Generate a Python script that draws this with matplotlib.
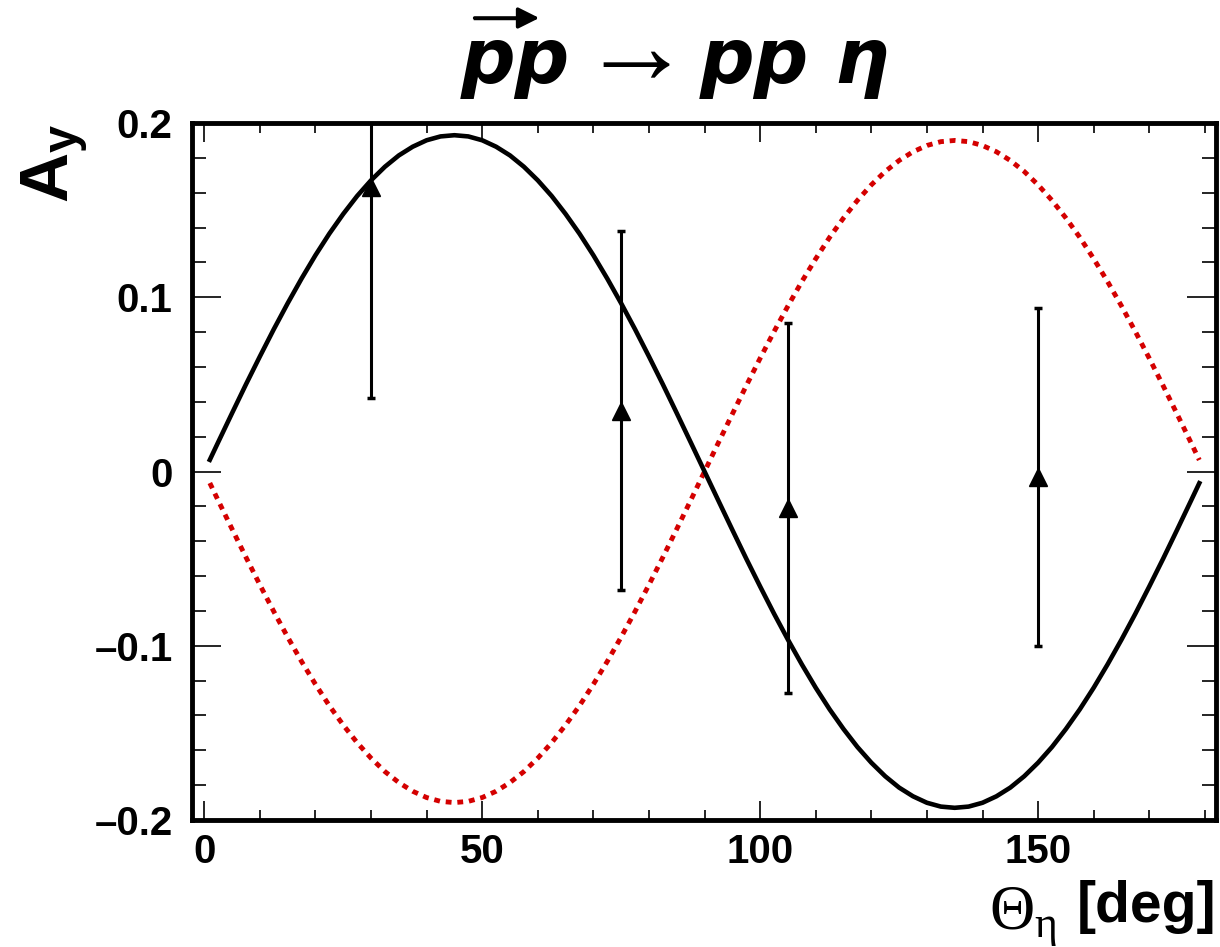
import numpy as np
import matplotlib
matplotlib.use('Agg')
import matplotlib.pyplot as plt
from matplotlib import ticker

# model curves (theta in deg)
theta = [1, 2.5, 5, 7.5, 10, 12.5, 15, 17.5, 20, 22.5, 25, 27.5, 30, 32.5, 35, 37.5, 40, 42.5,
         45, 47.5, 50, 52.5, 55, 57.5, 60, 62.5, 65, 67.5, 70, 72.5, 75, 77.5, 80, 82.5, 85, 87.5,
         90, 92.5, 95, 97.5, 100, 102.5, 105, 107.5, 110, 112.5, 115, 117.5, 120, 122.5, 125, 127.5,
         130, 132.5, 135, 137.5, 140, 142.5, 145, 147.5, 150, 152.5, 155, 157.5, 160, 162.5, 165,
         167.5, 170, 172.5, 175, 177.5, 179]
ay_solid = [0.0067, 0.0168, 0.0335, 0.0500, 0.0660, 0.0816, 0.0965, 0.1107, 0.1241, 0.1365,
            0.1478, 0.1581, 0.1671, 0.1749, 0.1814, 0.1864, 0.1901, 0.1923,
            0.1930, 0.1923, 0.1901, 0.1864, 0.1814, 0.1749, 0.1671, 0.1581, 0.1478, 0.1365,
            0.1241, 0.1107, 0.0965, 0.0816, 0.0660, 0.0500, 0.0335, 0.0168,
            0.0, -0.0168, -0.0335, -0.0500, -0.0660, -0.0816, -0.0965, -0.1107, -0.1241, -0.1365,
            -0.1478, -0.1581, -0.1671, -0.1749, -0.1814, -0.1864, -0.1901, -0.1923,
            -0.1930, -0.1923, -0.1901, -0.1864, -0.1814, -0.1749, -0.1671, -0.1581, -0.1478,
            -0.1365, -0.1241, -0.1107, -0.0965, -0.0816, -0.0660, -0.0500, -0.0335, -0.0168, -0.0067]
ay_dotted = [-0.0066, -0.0166, -0.0330, -0.0492, -0.0650, -0.0803, -0.0950, -0.1090, -0.1221, -0.1344,
             -0.1455, -0.1556, -0.1645, -0.1722, -0.1785, -0.1835, -0.1871, -0.1893,
             -0.1900, -0.1893, -0.1871, -0.1835, -0.1785, -0.1722, -0.1645, -0.1556, -0.1455, -0.1344,
             -0.1221, -0.1090, -0.0950, -0.0803, -0.0650, -0.0492, -0.0330, -0.0166,
             0.0, 0.0166, 0.0330, 0.0492, 0.0650, 0.0803, 0.0950, 0.1090, 0.1221, 0.1344,
             0.1455, 0.1556, 0.1645, 0.1722, 0.1785, 0.1835, 0.1871, 0.1893,
             0.1900, 0.1893, 0.1871, 0.1835, 0.1785, 0.1722, 0.1645, 0.1556, 0.1455,
             0.1344, 0.1221, 0.1090, 0.0950, 0.0803, 0.0650, 0.0492, 0.0330, 0.0166, 0.0066]

# measured points
pt_theta = [30, 75, 105, 150]
pt_ay = [0.163, 0.035, -0.021, -0.003]
pt_err = [0.121, 0.103, 0.106, 0.097]

plt.rcParams['font.family'] = ['Liberation Sans', 'DejaVu Sans']
plt.rcParams['font.weight'] = 'bold'
plt.rcParams['mathtext.fontset'] = 'custom'
plt.rcParams['mathtext.rm'] = 'Liberation Serif:normal'
plt.rcParams['mathtext.it'] = 'Liberation Serif:italic:normal'
plt.rcParams['mathtext.bf'] = 'Liberation Sans:bold'

fig = plt.figure(figsize=(12.2, 9.47), dpi=100)
ax = fig.add_axes([0.1574, 0.1341, 0.8393, 0.7360])

ax.plot(theta, ay_dotted, color='#d40000', lw=3.5, linestyle=(0, (1.2, 1.2)))
ax.plot(theta, ay_solid, color='black', lw=3.3)
ax.errorbar(pt_theta, pt_ay, yerr=pt_err, fmt='^', color='black', ms=13,
            elinewidth=2.2, capsize=3, capthick=2.5)

ax.set_xlim(-2.2, 182)
ax.set_ylim(-0.2, 0.2)

ax.xaxis.set_major_locator(ticker.MultipleLocator(50))
ax.xaxis.set_minor_locator(ticker.MultipleLocator(10))
ax.yaxis.set_major_locator(ticker.MultipleLocator(0.1))
ax.yaxis.set_minor_locator(ticker.MultipleLocator(0.02))
ax.yaxis.set_major_formatter(ticker.FuncFormatter(
    lambda v, p: '0' if abs(v) < 1e-9 else f'{v:.1f}'.replace('-', '\u2013')))

ax.tick_params(axis='both', which='both', direction='in', top=True, right=True, width=1.2)
ax.tick_params(axis='x', which='major', length=14, labelsize=29, pad=9)
ax.tick_params(axis='x', which='minor', length=7)
ax.tick_params(axis='y', which='major', length=21, labelsize=29, pad=14)
ax.tick_params(axis='y', which='minor', length=10)
for s in ax.spines.values():
    s.set_linewidth(3.5)

ax.set_xlabel('[deg]', fontsize=41, loc='right', fontweight='bold')
ax.xaxis.set_label_coords(1.0, -0.086)
fig.text(1057 / 1220, 1 - 928 / 947, r'$\Theta_{\mathrm{\eta}}$', fontsize=45,
         ha='right', va='baseline')
ax.set_ylabel(r'$\mathbf{A}_{\mathbf{y}}$', fontsize=50, loc='top', fontweight='bold')
ax.yaxis.set_label_coords(-0.100, 1.0)

# title: "pp -> pp eta" with polarisation arrow over the first p
fig.text(570 / 1220, 0.912, 'pp', fontsize=55, family='DejaVu Sans',
         weight='bold', style='italic', ha='right', va='baseline')
fig.text(617 / 1220, 1 - 52 / 947, r'$\rightarrow$', fontsize=80, ha='center', va='center')
fig.text(700 / 1220, 0.912, 'pp η', fontsize=55, family='DejaVu Sans',
         weight='bold', style='italic', ha='left', va='baseline')
fig.add_artist(plt.Line2D([0.389, 0.425], [0.981, 0.981], color='black', lw=2.5))
ax.annotate('', xy=(0.442, 0.981), xytext=(0.389, 0.981), xycoords='figure fraction',
            textcoords='figure fraction',
            arrowprops=dict(arrowstyle='-|>', lw=2.5, color='black', mutation_scale=32,
                            shrinkA=0, shrinkB=0))

fig.savefig('out.png', dpi=100)
